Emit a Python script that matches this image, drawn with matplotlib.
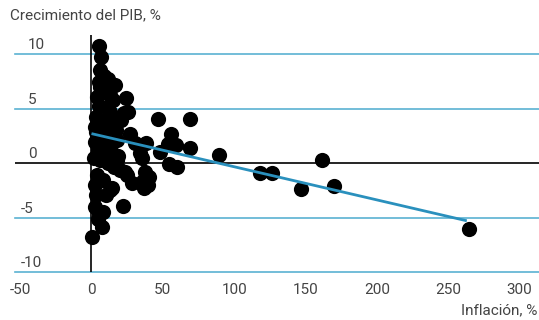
import numpy as np
import matplotlib
matplotlib.use("Agg")
import matplotlib.pyplot as plt
from matplotlib.transforms import offset_copy

plt.rcParams['font.family'] = ['Roboto', 'DejaVu Sans']

# inflation (%) and GDP growth (%)
inflacion = [5.3, 6.7, 6.0, 8.8, 5.3, 11.6, 16.5, 9.5, 13.0, 3.9,
             15.1, 5.3, 10.9, 24.2, 13.0, 22.8, 3.2, 8.8, 14.4, 20.7,
             2.5, 9.5, 3.2, 17.2, 8.8, 27.0, 17.9, 13.7, 2.5, 4.6,
             10.9, 1.8, 6.0, 11.6, 15.8, 20.0, 18.6, 23.5, 3.9, 8.1,
             14.4, 3.2, 10.2, 13.0, 2.5, 5.3, 8.1, 4.6, 22.1, 7.4,
             0.35, 46.6, 69.0, 38.2, 55.7, 53.6, 59.2, 34.0, 48.0, 69.0,
             89.3, 54.3, 59.9, 37.5, 40.3, 36.1, 39.6, 36.8, 118.1, 126.5,
             146.8, 161.5, 170.0, 264.5, 25.6, 28.4, 24.9, 17.9, 35.4, 6.0,
             2.5, 30.5]
crecimiento = [10.74, 9.73, 8.55, 8.0, 7.45, 7.73, 7.17, 6.53, 6.26, 6.07,
               5.80, 5.25, 5.16, 5.98, 4.70, 4.61, 4.25, 3.97, 3.79, 3.97,
               3.33, 3.24, 2.84, 3.02, 2.32, 2.69, 2.14, 1.68, 1.96, 1.23,
               1.23, 0.5, 0.31, 0.04, -0.33, -0.6, 0.68, -0.79, -1.06, -1.52,
               -2.25, -2.89, -2.89, -2.43, -4.06, -4.61, -4.45, -5.18, -3.90, -5.91,
               -6.81, 4.06, 4.06, 1.87, 2.69, 1.78, 1.68, 0.95, 1.04, 1.41,
               0.77, -0.05, -0.33, -0.79, -1.24, -1.61, -1.98, -2.25, -0.88, -0.88,
               -2.34, 0.31, -2.07, -6.09, 4.69, -1.79, -1.06, 0.31, 0.49, 6.99,
               -1.98, 1.87]

# trend line ends
tend_x = [0, 263]
tend_y = [2.7, -5.3]

x_ticks = [-50, 0, 50, 100, 150, 200, 250, 300]
y_ticks = [-10, -5, 0, 5, 10]

texto = '#444444'
azul_claro = '#5ab2d2'
azul = '#2a90bd'
fs = 11

fig = plt.figure(figsize=(5.39, 3.2), dpi=100)
ax = fig.add_axes([15 / 539, 48 / 320, 524 / 539, 237 / 320])
ax.set_xlim(-53.6, 313.6)
ax.set_ylim(-10, 11.75)

for s in ax.spines.values():
    s.set_visible(False)

for y in y_ticks:
    if y == 0:
        ax.axhline(y, color='black', lw=1.2, zorder=2)
    else:
        ax.axhline(y, color=azul_claro, lw=1.2, zorder=1, clip_on=False)
ax.axvline(0, color='black', lw=1.2, zorder=2)

ax.scatter(inflacion, crecimiento, s=120, color='black', zorder=3, linewidths=0)
ax.plot(tend_x, tend_y, color=azul, lw=2, zorder=4, solid_capstyle='butt')

ax.set_xticks(x_ticks)
ax.set_xticklabels([str(v) for v in x_ticks])
ax.set_yticks([])
ax.tick_params(axis='x', length=0, pad=8, labelsize=fs, labelcolor=texto)

# y labels sit above their grid lines
for y in y_ticks:
    dx = 13 if y >= 0 else 6
    tr = offset_copy(ax.get_yaxis_transform(), fig=fig, x=dx, y=2, units='dots')
    ax.text(0, y, str(y), transform=tr, ha='left', va='bottom',
            fontsize=fs, color=texto)

fig.text(10 / 539, 1 - 15 / 320, 'Crecimiento del PIB, %', ha='left', va='center',
         fontsize=fs, color=texto)
fig.text(537 / 539, 1 - 310 / 320, 'Inflación, %', ha='right', va='center',
         fontsize=fs, color=texto)

fig.savefig('out.png', dpi=100)
